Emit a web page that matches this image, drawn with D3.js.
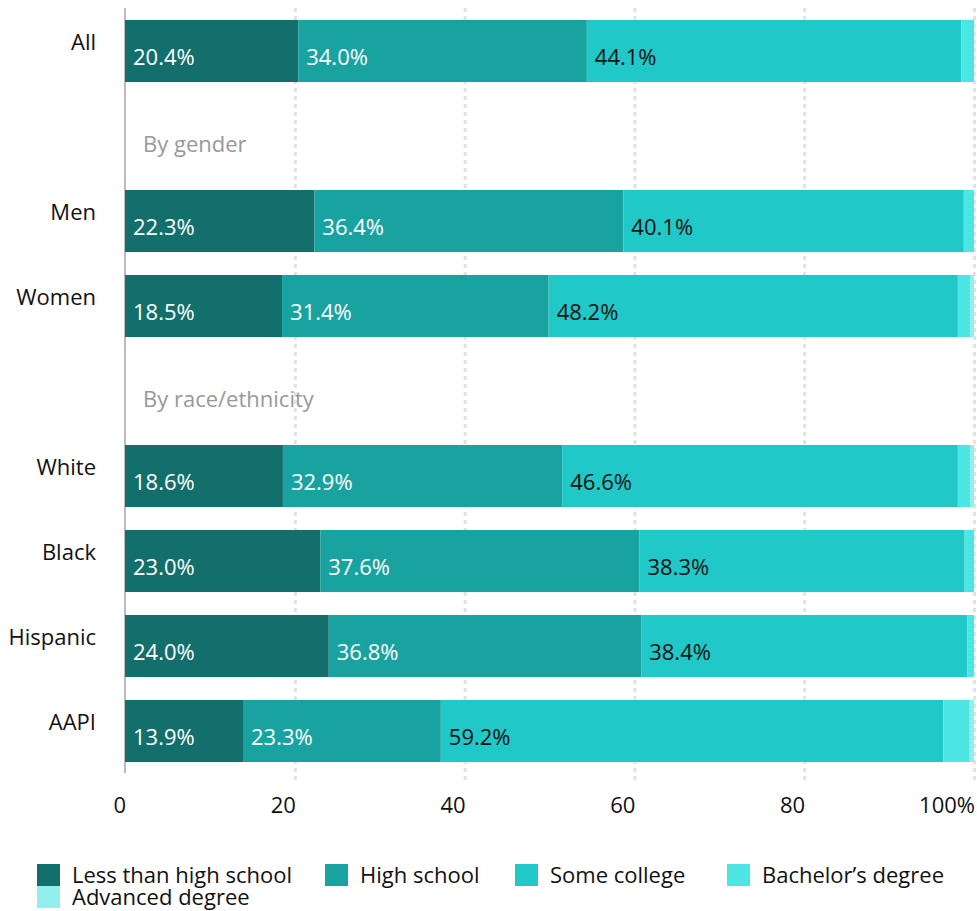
<!DOCTYPE html>
<html>
<head>
<meta charset="utf-8">
<script src="https://cdn.jsdelivr.net/npm/d3@7"></script>
<style>
  body { margin: 0; background: #fff; }
  text { font-family: "Open Sans", sans-serif; }
</style>
</head>
<body>
<div id="chart"></div>
<script>
// rows in order; section headers are rows without bars
var rows = ["All", "By gender", "Men", "Women", "By race/ethnicity", "White", "Black", "Hispanic", "AAPI"];
var headers = ["By gender", "By race/ethnicity"];
var groups = ["All", "Men", "Women", "White", "Black", "Hispanic", "AAPI"];
var levels = ["Less than high school", "High school", "Some college", "Bachelor\u2019s degree", "Advanced degree"];
var colors = ["#136f6c", "#19a3a0", "#20c8c8", "#4ee5e5", "#93eeee"];

var lessThanHS  = [20.4, 22.3, 18.5, 18.6, 23.0, 24.0, 13.9];
var highSchool  = [34.0, 36.4, 31.4, 32.9, 37.6, 36.8, 23.3];
var someCollege = [44.1, 40.1, 48.2, 46.6, 38.3, 38.4, 59.2];
var bachelors   = [1.5, 1.2, 1.5, 1.5, 1.1, 0.8, 3.1];
var advanced    = [0.0, 0.0, 0.4, 0.4, 0.0, 0.0, 0.5];

var xTicks = [0, 20, 40, 60, 80, 100];

var svgWidth = 977, svgHeight = 911;
var fontSize = 22;

var table = groups.map(function(g, i) {
  return { group: g, values: [lessThanHS[i], highSchool[i], someCollege[i], bachelors[i], advanced[i]] };
});

var svg = d3.select("#chart").append("svg")
  .attr("width", svgWidth)
  .attr("height", svgHeight);

var x = d3.scaleLinear().domain([0, 100]).range([125, 974]);
var y = d3.scaleBand().domain(rows).range([8.5, 773.5]).paddingInner(0.27).paddingOuter(0.135);

// dotted gridlines
svg.append("g")
  .selectAll("line")
  .data(xTicks.slice(1))
  .enter().append("line")
  .attr("x1", d => x(d) + 0.5).attr("x2", d => x(d) + 0.5)
  .attr("y1", 8).attr("y2", 782)
  .attr("stroke", "#e2e2e2")
  .attr("stroke-width", 3)
  .attr("stroke-dasharray", "4,4");

// baseline
svg.append("line")
  .attr("x1", x(0)).attr("x2", x(0))
  .attr("y1", 8).attr("y2", 773)
  .attr("stroke", "#bbb")
  .attr("stroke-width", 2);

// stacked bars
var bar = svg.append("g").selectAll("g")
  .data(table)
  .enter().append("g");

bar.selectAll("rect")
  .data(function(d) {
    var acc = 0;
    return d.values.map(function(v, k) {
      var s = { group: d.group, k: k, v: v, x0: acc, x1: acc + v };
      acc += v;
      return s;
    });
  })
  .enter().append("rect")
  .attr("x", d => x(d.x0))
  .attr("y", d => y(d.group))
  .attr("width", d => Math.max(0, x(d.x1) - x(d.x0)))
  .attr("height", y.bandwidth())
  .attr("fill", d => colors[d.k]);

// value labels for first three segments
bar.selectAll("text")
  .data(function(d) {
    var acc = 0;
    return d.values.slice(0, 3).map(function(v, k) {
      var s = { group: d.group, k: k, v: v, x0: acc };
      acc += v;
      return s;
    });
  })
  .enter().append("text")
  .attr("x", d => x(d.x0) + 8)
  .attr("y", d => y(d.group) + 45)
  .attr("font-size", fontSize)
  .attr("fill", d => d.k < 2 ? "#fff" : "#111")
  .text(d => d.v.toFixed(1) + "%");

// category labels
svg.append("g").selectAll("text")
  .data(groups)
  .enter().append("text")
  .attr("x", 96)
  .attr("y", d => y(d) + 30)
  .attr("text-anchor", "end")
  .attr("font-size", fontSize)
  .attr("fill", "#111")
  .text(d => d);

// section headers
svg.append("g").selectAll("text")
  .data(headers)
  .enter().append("text")
  .attr("x", 143)
  .attr("y", d => y(d) + y.bandwidth() / 2 + 16)
  .attr("font-size", fontSize)
  .attr("fill", "#999")
  .text(d => d);

// x tick labels, right aligned on tick
svg.append("g").selectAll("text")
  .data(xTicks)
  .enter().append("text")
  .attr("x", d => x(d) + 1)
  .attr("y", 813)
  .attr("text-anchor", "end")
  .attr("font-size", fontSize)
  .attr("fill", "#111")
  .text(d => d === 100 ? "100%" : d);

// legend
var legendPos = [[37, 864], [325, 864], [515, 864], [727, 864], [37, 886]];
var legend = svg.append("g").selectAll("g")
  .data(levels)
  .enter().append("g")
  .attr("transform", (d, i) => "translate(" + legendPos[i][0] + "," + legendPos[i][1] + ")");

legend.append("rect")
  .attr("width", 23).attr("height", 22)
  .attr("fill", (d, i) => colors[i]);

legend.append("text")
  .attr("x", 35)
  .attr("y", 19)
  .attr("font-size", fontSize)
  .attr("fill", "#111")
  .text(d => d);
</script>
</body>
</html>
